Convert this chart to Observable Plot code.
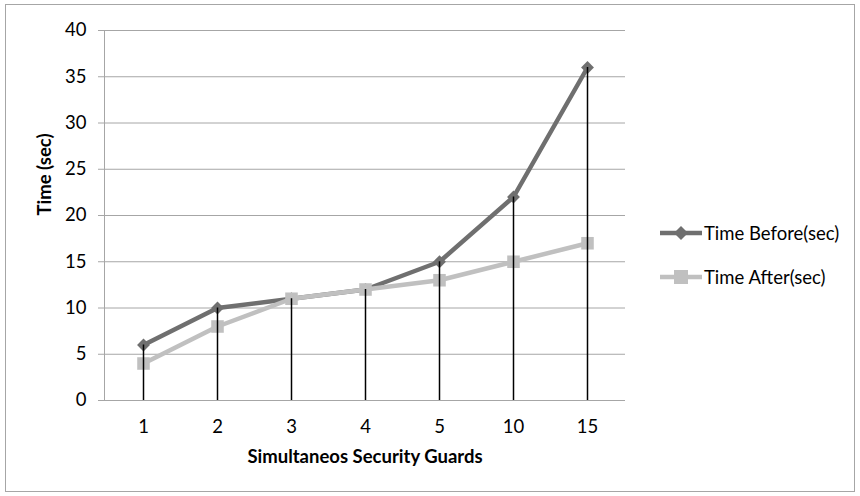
<!DOCTYPE html>
<html><head><meta charset="utf-8">
<script src="https://cdn.jsdelivr.net/npm/d3@7"></script>
<script src="https://cdn.jsdelivr.net/npm/@observablehq/plot@0.6"></script>
<style>
body{margin:0;background:#fff;}
#wrap{position:relative;width:860px;height:496px;font-family:Lato,"Open Sans",sans-serif;}
#frame{position:absolute;left:5px;top:4px;width:848px;height:486px;border:1px solid #a6a6a6;pointer-events:none;}
#legend{position:absolute;left:660px;top:222px;font-size:18.5px;color:#000;}
.li{display:flex;align-items:center;height:22px;margin-bottom:22px;}
.li svg{margin-right:2px;}
</style></head>
<body><div id="wrap"><div id="frame"></div><div id="legend"></div></div>
<script>
const categories = ["1","2","3","4","5","10","15"];
const timeBefore = [6,10,11,12,15,22,36];
const timeAfter = [4,8,11,12,13,15,17];
const seriesNames = ["Time Before(sec)","Time After(sec)"];
const yTicks = [0,5,10,15,20,25,30,35,40];

const colBefore = "#6f6f6f", colAfter = "#c0c0c0";
const before = categories.map((c,i)=>({c, v: timeBefore[i]}));
const after = categories.map((c,i)=>({c, v: timeAfter[i]}));
const fs = 18.5;

const chart = Plot.plot({
  width: 860, height: 496,
  marginLeft: 104, marginRight: 235, marginTop: 30, marginBottom: 96,
  style: {fontFamily: "Lato, 'Open Sans', sans-serif", fontSize: fs + "px", color: "#000", background: "transparent"},
  x: {type: "band", domain: categories, padding: 0, label: null},
  y: {domain: [0,40], ticks: yTicks, label: null},
  marks: [
    Plot.gridY(yTicks, {stroke: "#a6a6a6", strokeOpacity: 1, strokeWidth: 1}),
    Plot.axisY(yTicks, {tickSize: 6, tickPadding: 12, stroke: "#a6a6a6", fontSize: fs, fill: "#000"}),
    Plot.axisX({tickSize: 0, tickPadding: 19, fontSize: fs, fill: "#000"}),
    Plot.line(before, {x: "c", y: "v", stroke: colBefore, strokeWidth: 4.5}),
    Plot.dot(before, {x: "c", y: "v", symbol: "diamond2", r: 5.8, fill: colBefore, stroke: "none"}),
    Plot.line(after, {x: "c", y: "v", stroke: colAfter, strokeWidth: 4.5}),
    Plot.dot(after, {x: "c", y: "v", symbol: "square2", r: 8, fill: colAfter, stroke: "none"}),
    Plot.ruleX(before, {x: "c", y1: 0, y2: "v", stroke: "#000", strokeWidth: 1.5}),
    Plot.text(["Simultaneos Security Guards"], {frameAnchor: "bottom", dy: 62, fontWeight: "bold", fontSize: fs, fill: "#000"}),
    Plot.text(["Time (sec)"], {frameAnchor: "left", dx: -59, rotate: -90, fontWeight: "bold", fontSize: fs, fill: "#000"})
  ]
});
document.getElementById("wrap").prepend(chart);
const svg = d3.select(chart);
svg.append("line").attr("x1", 104.5).attr("x2", 104.5).attr("y1", 30).attr("y2", 400).attr("stroke", "#a6a6a6");

const leg = d3.select("#legend");
const items = [{name: seriesNames[0], col: colBefore, sym: "d"}, {name: seriesNames[1], col: colAfter, sym: "s"}];
items.forEach(it => {
  const row = leg.append("div").attr("class","li");
  const s = row.append("svg").attr("width", 42).attr("height", 22);
  s.append("line").attr("x1",0).attr("x2",42).attr("y1",11).attr("y2",11).attr("stroke",it.col).attr("stroke-width",4.5);
  if (it.sym === "d") s.append("path").attr("d","M21,4L28,11L21,18L14,11Z").attr("fill",it.col);
  else s.append("rect").attr("x",14).attr("y",4).attr("width",14).attr("height",14).attr("fill",it.col);
  row.append("span").text(it.name);
});
</script></body></html>
